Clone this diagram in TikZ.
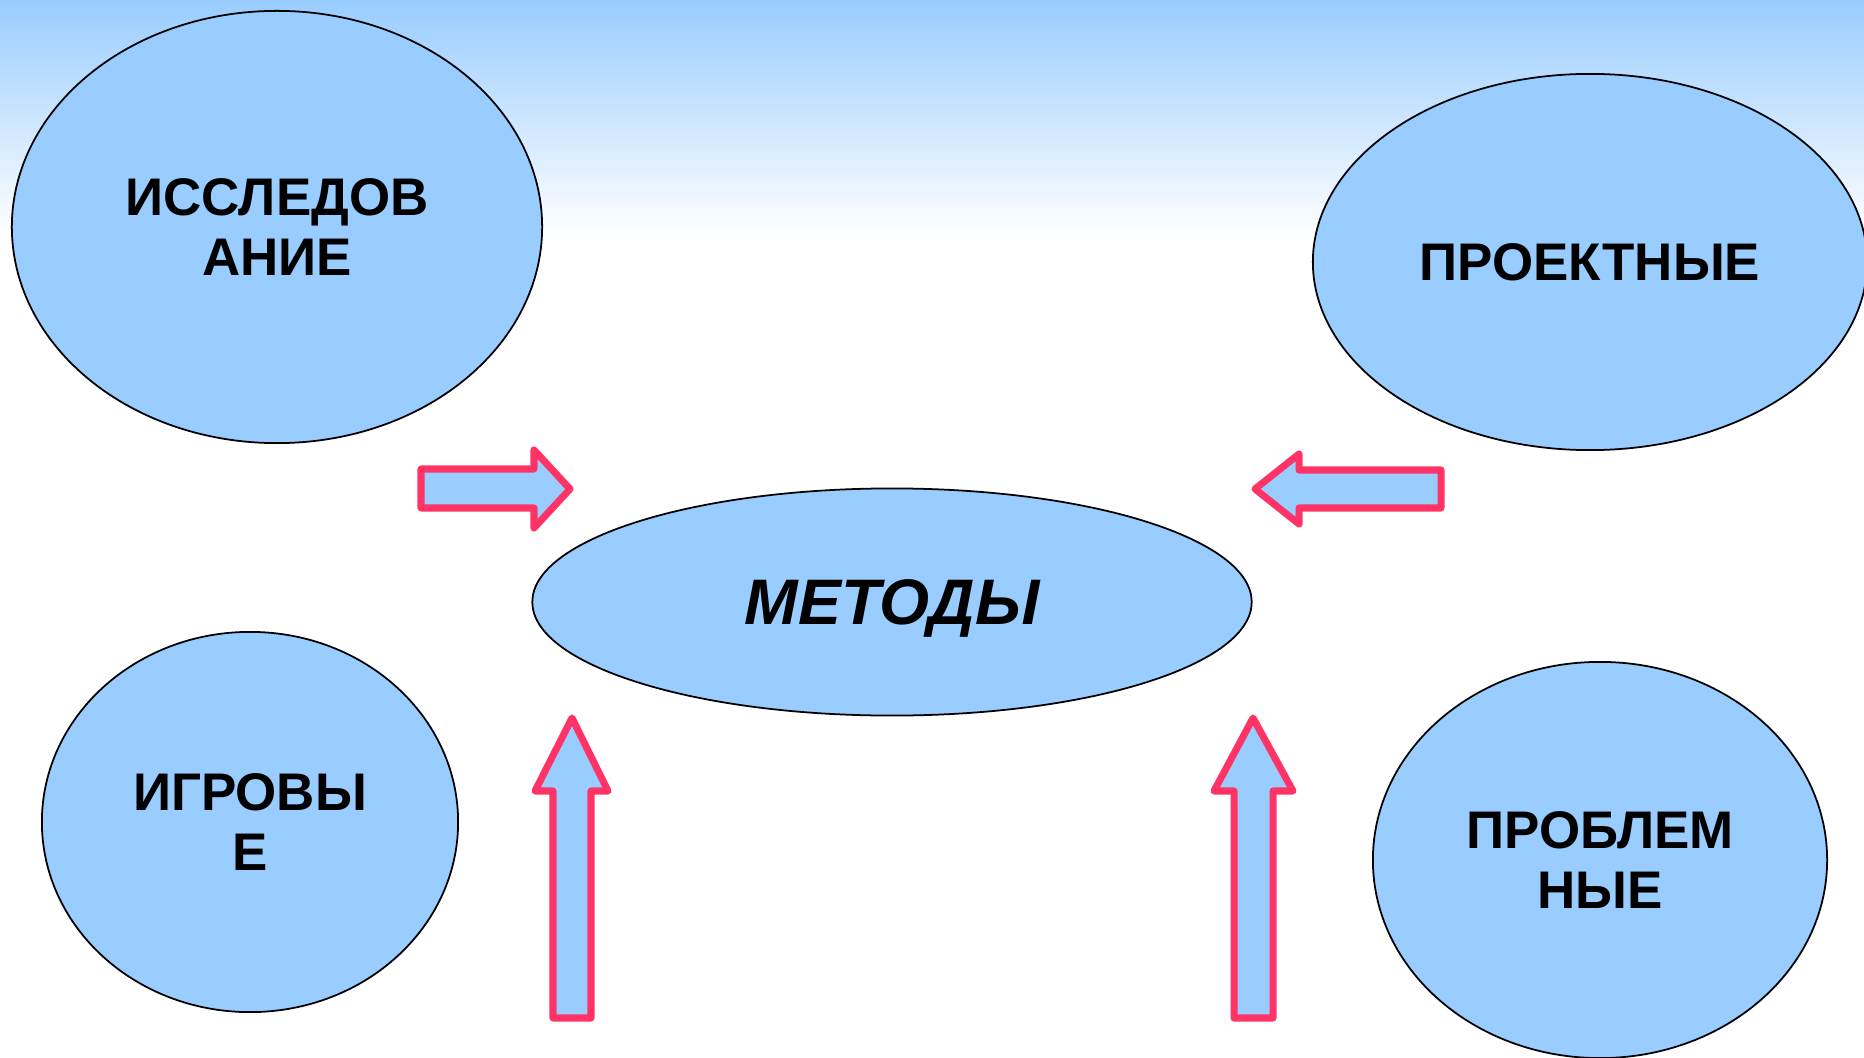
\documentclass[tikz,border=0pt]{standalone}
\usepackage{fontspec}
\setmainfont{Liberation Sans}
\usetikzlibrary{shapes.geometric}
\definecolor{skyblue}{HTML}{99CCFF}
\definecolor{arrowred}{HTML}{FF3366}

\begin{document}
\begin{tikzpicture}[x=0.01cm,y=-0.01cm,
            oval/.style={ellipse,draw=black,line width=0.5pt,fill=skyblue,inner sep=0pt,
                align=center,font=\fontsize{15.05}{17.1}\selectfont\bfseries},
            blockarrow/.style={draw=arrowred,fill=skyblue,line width=2pt,line join=round},
        ]
        \useasboundingbox (0,0) rectangle (1864,1058);
        \clip (0,0) rectangle (1864,1058);
        \fill[top color=skyblue,bottom color=white] (0,0) rectangle (1864,236);
        % ovals
        \node[oval,minimum width=5.30cm,minimum height=4.32cm] (research) at (277,227) {ИССЛЕДОВ\\АНИЕ};
        \node[oval,minimum width=5.54cm,minimum height=3.76cm] (project) at (1590,262) {ПРОЕКТНЫЕ};
        \node[oval,minimum width=4.16cm,minimum height=3.80cm] (game) at (250,822) {ИГРОВЫ\\Е};
        \node[oval,minimum width=4.54cm,minimum height=3.96cm] (problem) at (1600,860) {ПРОБЛЕМ\\НЫЕ};
        \node[oval,minimum width=7.19cm,minimum height=2.27cm,text depth=0pt,
            font=\fontsize{18.3}{20}\selectfont\bfseries\itshape] (methods) at (892,602) {МЕТОДЫ};
        % arrows
        \draw[blockarrow] (421,469) -- (534,469) -- (534,450) -- (570,489) -- (534,528) -- (534,508) -- (421,508) -- cycle;
        \draw[blockarrow] (1255,489) -- (1299,454) -- (1299,470) -- (1441,470) -- (1441,508) -- (1299,508) -- (1299,524) -- cycle;
        \draw[blockarrow] (572,718) -- (608,791) -- (591,791) -- (591,1018) -- (553,1018) -- (553,791) -- (535,791) -- cycle;
        \draw[blockarrow] (1253,718) -- (1293,791) -- (1273,791) -- (1273,1018) -- (1234,1018) -- (1234,791) -- (1214,791) -- cycle;
    \end{tikzpicture}
\end{document}
